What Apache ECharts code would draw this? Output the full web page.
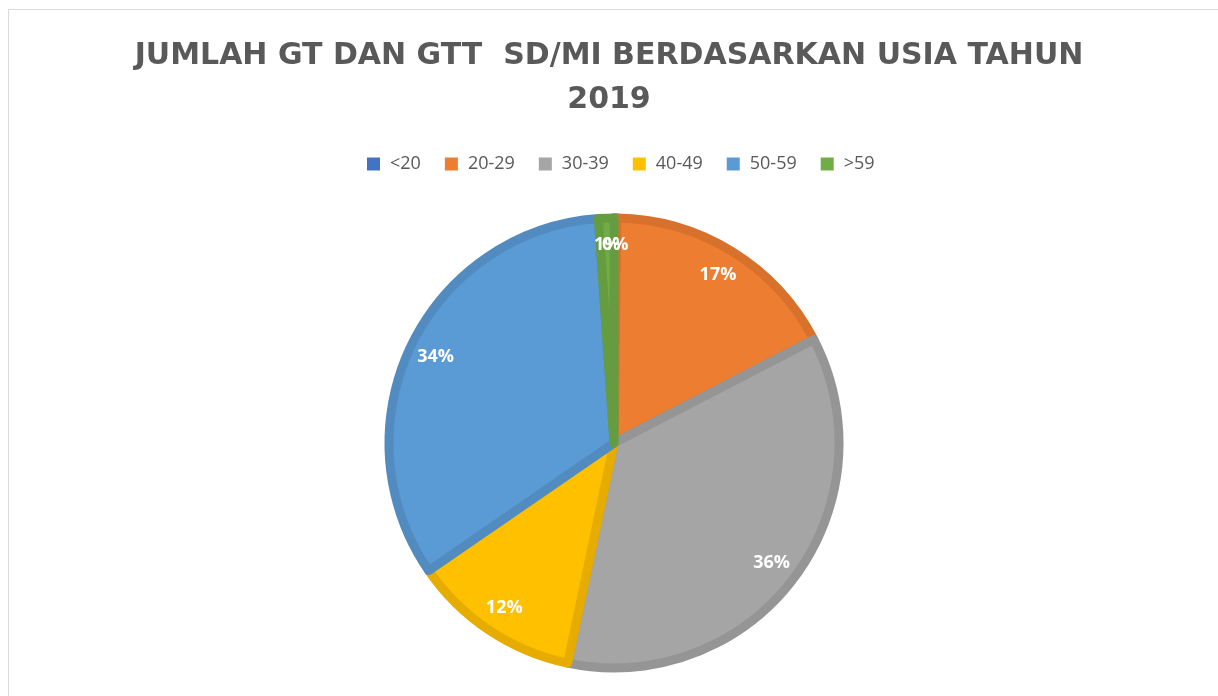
<!DOCTYPE html>
<html>
<head>
<meta charset="utf-8">
<title>Jumlah GT dan GTT SD/MI 2019</title>
<script src="https://cdn.jsdelivr.net/npm/echarts@6/dist/echarts.min.js"></script>
<style>
html, body { margin: 0; padding: 0; background: #fff; }
#chart { width: 1218px; height: 696px; }
</style>
</head>
<body>
<div id="chart"></div>
<script>
// data (persen)
var ageGroups = ['<20', '20-29', '30-39', '40-49', '50-59', '>59'];
var shareValues = [0.2, 17.2, 35.9, 12.1, 33.5, 1.1];
var fillColors = ['#4472C4', '#ED7D31', '#A5A5A5', '#FFC000', '#5B9BD5', '#70AD47'];
var edgeColors = ['#3F67B0', '#D8712B', '#959595', '#E6AD00', '#528BC0', '#659C40'];

function buildData(withStyle) {
	var arr = [];
	for (var i = 0; i < ageGroups.length; i++) {
		var item = { name: ageGroups[i], value: shareValues[i] };
		if (withStyle) {
			item.itemStyle = { color: fillColors[i], borderColor: edgeColors[i] };
		}
		arr.push(item);
	}
	return arr;
}

var chart = echarts.init(document.getElementById('chart'));
var option = {
	animation: false,
	color: fillColors,
	title: {
		text: 'JUMLAH GT DAN GTT  SD/MI BERDASARKAN USIA TAHUN\n2019',
		left: 'center',
		top: 29,
		textStyle: {
			fontFamily: 'DejaVu Sans',
			fontWeight: 'bold',
			fontSize: 30,
			color: '#595959',
			lineHeight: 44
		}
	},
	legend: {
		data: ageGroups,
		top: 150,
		left: 362,
		icon: 'rect',
		itemWidth: 13,
		itemHeight: 13,
		itemGap: 24,
		itemStyle: { borderWidth: 0 },
		textStyle: { fontFamily: 'Open Sans', fontSize: 18, color: '#595959', padding: [0, 0, 0, 5] }
	},
	graphic: [{
		type: 'rect',
		shape: { x: 8.5, y: 9.5, width: 1215, height: 700 },
		style: { fill: 'none', stroke: '#d9d9d9', lineWidth: 1 },
		silent: true
	}],
	series: [
		{
			name: 'usia',
			type: 'pie',
			center: [614, 443],
			radius: 225,
			startAngle: 90,
			itemStyle: { borderWidth: 9 },
			label: { show: false },
			labelLine: { show: false },
			emphasis: { disabled: true },
			data: buildData(true)
		},
		{
			// lapisan label saja, supaya label di dekat tepi seperti Excel
			name: 'label',
			type: 'pie',
			center: [614, 443],
			radius: [164, 226],
			startAngle: 90,
			silent: true,
			minShowLabelAngle: 0,
			itemStyle: { color: 'rgba(0,0,0,0)', borderWidth: 0 },
			label: {
				show: true,
				position: 'inside',
				fontFamily: 'Open Sans',
				fontWeight: 'bold',
				fontSize: 18,
				color: '#fff',
				formatter: function (p) { return Math.round(p.percent) + '%'; }
			},
			labelLayout: { hideOverlap: false },
			labelLine: { show: false },
			emphasis: { disabled: true },
			data: buildData(false)
		}
	]
};
chart.setOption(option);
</script>
</body>
</html>
